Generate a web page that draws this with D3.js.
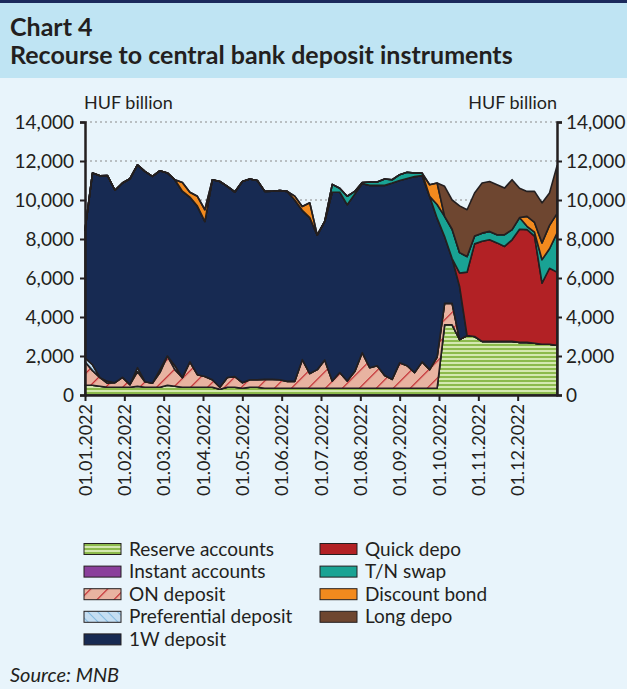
<!DOCTYPE html>
<html>
<head>
<meta charset="utf-8">
<title>Chart 4</title>
<style>
  body { margin: 0; background: #e8f4fb; }
  svg { display: block; }
  text { font-family: Lato, "Open Sans", sans-serif; fill: #231f20; }
</style>
</head>
<body>
<svg width="627" height="689"></svg>
<script src="https://cdn.jsdelivr.net/npm/d3@7"></script>
<script>
// business-day index (0 = 03.01.2022), sampled every 4 days
var days = [0, 4, 8, 12, 16, 20, 24, 28, 32, 36, 40, 44, 48, 52, 56, 60, 64, 68, 72, 76,
  80, 84, 88, 92, 96, 100, 104, 108, 112, 116, 120, 124, 128, 132, 136, 140, 144, 148, 152, 156,
  160, 164, 168, 172, 176, 180, 184, 188, 192, 196, 200, 204, 208, 212, 216, 220, 224, 228, 232, 236,
  240, 244, 248, 252];

// HUF billion
var reserve = [500, 500, 450, 400, 400, 400, 400, 450, 400, 400, 400, 500, 450, 400, 400, 400, 400, 400, 300, 400,
  400, 350, 400, 400, 350, 350, 350, 350, 350, 350, 350, 350, 350, 350, 350, 350, 350, 350, 350, 350,
  350, 350, 350, 350, 350, 350, 350, 350, 3600, 3600, 2840, 3050, 3000, 2750, 2750, 2750, 2750, 2750, 2700, 2700,
  2650, 2600, 2600, 2550];
var instant = [0, 0, 0, 0, 0, 0, 0, 0, 0, 0, 0, 0, 0, 0, 0, 0, 0, 0, 0, 0,
  0, 0, 0, 0, 0, 0, 0, 0, 0, 0, 0, 0, 0, 0, 0, 0, 0, 0, 0, 0,
  0, 0, 0, 0, 0, 0, 0, 0, 0, 0, 0, 0, 0, 0, 0, 0, 0, 0, 0, 0,
  0, 0, 0, 0];
var onDeposit = [1200, 750, 440, 200, 230, 500, 130, 750, 280, 200, 750, 1500, 850, 490, 1300, 640, 550, 380, 100, 500,
  540, 280, 380, 380, 450, 450, 430, 350, 350, 1460, 750, 950, 1450, 370, 800, 370, 850, 1820, 1050, 1150,
  650, 450, 1300, 1150, 800, 1350, 950, 1600, 1100, 1100, 0, 0, 0, 0, 0, 0, 0, 0, 0, 0,
  0, 0, 0, 0];
var preferential = [200, 300, 0, 100, 0, 0, 0, 200, 0, 0, 150, 0, 200, 0, 0, 0, 0, 0, 0, 0,
  0, 0, 0, 0, 0, 0, 0, 0, 0, 0, 0, 0, 0, 0, 0, 0, 0, 0, 0, 0,
  0, 0, 0, 0, 0, 0, 0, 0, 0, 0, 0, 0, 0, 0, 0, 0, 0, 0, 0, 0,
  0, 0, 0, 0];
var oneWeek = [6550, 9830, 10350, 10550, 9870, 9970, 10560, 10400, 10790, 10610, 10200, 9390, 9540, 9560, 8450, 8650, 7950, 10260, 10550, 9800,
  9470, 10320, 10300, 10220, 9640, 9650, 9700, 9740, 9300, 7660, 8000, 6900, 7100, 9680, 9250, 9040, 9100, 8680, 9350, 9250,
  9750, 10070, 9350, 9600, 10050, 9550, 8890, 7120, 3430, 2300, 2730, 0, 0, 0, 0, 0, 0, 0, 0, 0,
  0, 0, 0, 0];
var quick = [0, 0, 0, 0, 0, 0, 0, 0, 0, 0, 0, 0, 0, 0, 0, 0, 0, 0, 0, 0,
  0, 0, 0, 0, 0, 0, 0, 0, 0, 0, 0, 0, 0, 0, 0, 0, 0, 0, 0, 0,
  0, 0, 0, 0, 0, 0, 0, 0, 0, 0, 690, 3250, 4750, 5130, 5210, 5050, 4870, 5210, 5800, 5780,
  5500, 3140, 3900, 3750];
var tnSwap = [0, 0, 0, 0, 0, 0, 0, 0, 0, 0, 0, 0, 0, 0, 0, 0, 0, 0, 0, 0,
  0, 0, 0, 0, 0, 0, 0, 0, 0, 0, 0, 0, 0, 400, 200, 430, 140, 50, 170, 170,
  330, 170, 300, 320, 180, 130, 0, 700, 1030, 1500, 1040, 800, 400, 420, 430, 420, 600, 520, 600, 170,
  200, 1200, 1000, 2000];
var discount = [0, 0, 0, 0, 0, 0, 0, 0, 0, 0, 0, 0, 0, 450, 250, 500, 600, 0, 0, 0,
  0, 0, 0, 0, 0, 0, 0, 0, 200, 200, 760, 0, 0, 0, 0, 0, 0, 0, 0, 0,
  0, 0, 0, 0, 0, 0, 590, 1100, 0, 0, 0, 0, 0, 0, 0, 0, 0, 0, 0, 510,
  500, 860, 1200, 1000];
var longDepo = [0, 0, 0, 0, 0, 0, 0, 0, 0, 0, 0, 0, 0, 0, 0, 0, 0, 0, 0, 0,
  0, 0, 0, 0, 0, 0, 0, 0, 0, 0, 0, 0, 0, 0, 0, 0, 0, 0, 0, 0,
  0, 0, 0, 0, 0, 0, 0, 0, 1540, 1500, 2400, 2400, 2210, 2570, 2560, 2560, 2390, 2560, 1500, 1280,
  1590, 2050, 1660, 2450];

var tickDays = [0, 21, 42, 63, 84, 105, 126, 147, 168, 189, 210, 231];
var tickLabels = ["01.01.2022", "01.02.2022", "01.03.2022", "01.04.2022", "01.05.2022", "01.06.2022",
  "01.07.2022", "01.08.2022", "01.09.2022", "01.10.2022", "01.11.2022", "01.12.2022"];

var seriesNames = ["Reserve accounts", "Instant accounts", "ON deposit", "Preferential deposit", "1W deposit",
  "Quick depo", "T/N swap", "Discount bond", "Long depo"];
var seriesValues = [reserve, instant, onDeposit, preferential, oneWeek, quick, tnSwap, discount, longDepo];
var seriesFills = ["url(#pReserve)", "#8a3f9b", "url(#pOn)", "url(#pPref)", "#172a52",
  "#b22125", "#19a394", "#f28a1e", "#6e4630"];

var svg = d3.select("svg"),
    width = +svg.attr("width"),
    height = +svg.attr("height");

// patterns
var defs = svg.append("defs");
var pr = defs.append("pattern").attr("id", "pReserve").attr("patternUnits", "userSpaceOnUse")
    .attr("width", 8).attr("height", 4);
pr.append("rect").attr("width", 8).attr("height", 4).attr("fill", "#8cba4c");
pr.append("rect").attr("y", 2).attr("width", 8).attr("height", 2).attr("fill", "#d4e8b0");

var po = defs.append("pattern").attr("id", "pOn").attr("patternUnits", "userSpaceOnUse")
    .attr("width", 12).attr("height", 12).attr("patternTransform", "rotate(45)");
po.append("rect").attr("width", 12).attr("height", 12).attr("fill", "#e8b3a1");
po.append("line").attr("x1", 0).attr("y1", 0).attr("x2", 0).attr("y2", 12)
    .attr("stroke", "#c1272d").attr("stroke-width", 2.4);

var pp = defs.append("pattern").attr("id", "pPref").attr("patternUnits", "userSpaceOnUse")
    .attr("width", 7).attr("height", 7).attr("patternTransform", "rotate(-45)");
pp.append("rect").attr("width", 7).attr("height", 7).attr("fill", "#c5def2");
pp.append("line").attr("x1", 0).attr("y1", 0).attr("x2", 0).attr("y2", 7)
    .attr("stroke", "#5aa5d9").attr("stroke-width", 1.2);

// header band
svg.append("rect").attr("width", width).attr("height", 78).attr("fill", "#bfe4f3");
svg.append("rect").attr("width", width).attr("height", 3).attr("fill", "#1b2a5c");
svg.append("text").attr("x", 10).attr("y", 36).attr("font-size", 25).attr("font-weight", "bold").text("Chart 4");
svg.append("text").attr("x", 10).attr("y", 64).attr("font-size", 25).attr("font-weight", "bold")
    .text("Recourse to central bank deposit instruments");

var x = d3.scaleLinear().domain([0, 252]).range([85, 557]);
var y = d3.scaleLinear().domain([0, 14000]).range([395, 122]);
var yTicks = [0, 2000, 4000, 6000, 8000, 10000, 12000, 14000];

// gridlines
svg.append("g").selectAll("line").data(yTicks.slice(1)).enter().append("line")
    .attr("x1", x.range()[0]).attr("x2", x.range()[1])
    .attr("y1", function(d) { return y(d); }).attr("y2", function(d) { return y(d); })
    .attr("stroke", "#8a8a8a").attr("stroke-width", 1).attr("stroke-dasharray", "2,3");

// stacked areas
var rows = days.map(function(d, i) {
  var r = { day: d };
  seriesNames.forEach(function(name, k) { r[name] = seriesValues[k][i]; });
  return r;
});
var stack = d3.stack().keys(seriesNames)(rows);
var area = d3.area()
    .x(function(d) { return x(d.data.day); })
    .y0(function(d) { return y(d[0]); })
    .y1(function(d) { return y(d[1]); });
svg.append("g").selectAll("path").data(stack).enter().append("path")
    .attr("d", area)
    .attr("fill", function(d, i) { return seriesFills[i]; })
    .attr("stroke", "#231f20").attr("stroke-width", 1.6).attr("stroke-linejoin", "round");

// axes
var yl = svg.append("g").attr("transform", "translate(85,0)")
    .call(d3.axisLeft(y).tickValues(yTicks).tickFormat(d3.format(",")).tickSize(5).tickPadding(6));
var yr = svg.append("g").attr("transform", "translate(557,0)")
    .call(d3.axisRight(y).tickValues(yTicks).tickFormat(d3.format(",")).tickSize(5).tickPadding(4));
[yl, yr].forEach(function(g) {
  g.selectAll("text").attr("font-size", 19).attr("font-family", "Lato").attr("fill", "#231f20");
  g.selectAll("line").attr("stroke", "#231f20").attr("stroke-width", 2);
  g.select(".domain").attr("stroke", "#231f20").attr("stroke-width", 2.5);
});

var xa = svg.append("g").attr("transform", "translate(0,395)")
    .call(d3.axisBottom(x).tickValues(tickDays)
      .tickFormat(function(d, i) { return tickLabels[i]; }).tickSize(6).tickSizeOuter(0));
xa.select(".domain").attr("stroke", "#231f20").attr("stroke-width", 2.5);
xa.selectAll("line").attr("stroke", "#231f20").attr("stroke-width", 2);
xa.selectAll("text")
    .attr("font-size", 18).attr("font-family", "Lato").attr("fill", "#231f20")
    .attr("text-anchor", "end")
    .attr("transform", "rotate(-90)")
    .attr("x", -9).attr("y", 0).attr("dy", "0.35em");

svg.append("text").attr("x", 84).attr("y", 109).attr("font-size", 18).text("HUF billion");
svg.append("text").attr("x", 557).attr("y", 109).attr("font-size", 18).attr("text-anchor", "end").text("HUF billion");

// legend
var legendCols = [[0, 1, 2, 3, 4], [5, 6, 7, 8]];
var legendX = [84, 320];
legendCols.forEach(function(col, c) {
  var g = svg.append("g");
  col.forEach(function(k, j) {
    var yy = 549 + j * 22.6;
    g.append("rect").attr("x", legendX[c]).attr("y", yy - 5.5).attr("width", 37).attr("height", 11)
      .attr("fill", seriesFills[k]).attr("stroke", "#231f20").attr("stroke-width", 1);
    g.append("text").attr("x", legendX[c] + 45).attr("y", yy).attr("dy", "0.35em")
      .attr("font-size", 19).text(seriesNames[k]);
  });
});

svg.append("text").attr("x", 10).attr("y", 682).attr("font-size", 20).attr("font-style", "italic")
    .text("Source: MNB");
</script>
</body>
</html>
